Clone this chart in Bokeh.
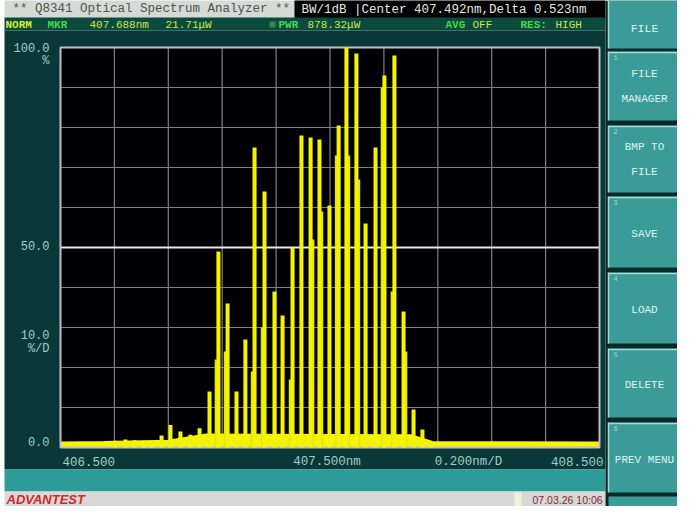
from bokeh.plotting import figure
from bokeh.models import Range1d
from bokeh.embed import file_html
from bokeh.resources import INLINE
from bokeh.core.properties import value

# ---------------- data ----------------
WL_MIN, WL_MAX = 406.5, 408.5          # nm, span of the trace window
PCT_MIN, PCT_MAX = 0.0, 100.0          # linear level, %

peak_wavelength_nm = [406.704, 406.741, 406.775, 406.808, 406.841, 406.875, 406.908,
                      406.945, 406.982, 407.016, 407.053, 407.086, 407.120, 407.153,
                      407.186, 407.220, 407.257, 407.294, 407.324, 407.361, 407.394,
                      407.428, 407.461, 407.498, 407.532, 407.561, 407.598, 407.632,
                      407.669, 407.702, 407.739, 407.773, 407.810, 407.843, 407.873]
peak_level_pct = [1.7, 2.0, 1.8, 1.7, 1.5, 3.0, 5.6,
                  4.0, 3.2, 4.8, 14.0, 49.0, 36.0, 14.0,
                  27.0, 75.0, 64.0, 39.0, 33.0, 50.0, 78.0,
                  77.5, 77.0, 60.5, 80.5, 100.0, 98.5, 56.0,
                  75.0, 93.0, 98.0, 34.0, 9.5, 4.5, 1.5]

shoulder_wavelength_nm = [407.078, 407.112, 407.212, 407.249, 407.353, 407.436, 407.469,
                          407.524, 407.569, 407.606, 407.694, 407.731, 407.781]
shoulder_level_pct = [22.0, 24.0, 19.0, 30.0, 17.0, 52.0, 59.0,
                      73.0, 73.0, 67.0, 90.0, 39.0, 24.0]

floor_wavelength_nm = [406.5, 406.66, 406.90, 407.04, 407.80, 407.88, 408.5]
floor_level_pct = [1.2, 1.3, 1.6, 3.2, 3.0, 1.3, 1.2]

x_grid_nm = [406.7, 406.9, 407.1, 407.3, 407.5, 407.7, 407.9, 408.1, 408.3]
y_grid_pct = [10, 20, 30, 40, 60, 70, 80, 90]
y_mid_pct = [50]

x_tick_nm = [406.5, 407.5, 408.5]
x_tick_labels = ["406.500", "407.500nm", "408.500"]
y_tick_pct = [100, 50, 0]
y_tick_labels = ["100.0", "50.0", "0.0"]

menu_title = "FILE"
menu_items = [["FILE", "MANAGER"], ["BMP TO", "FILE"], ["SAVE"], ["LOAD"], ["DELETE"], ["PREV MENU"]]

# ---------------- layout (page pixels) ----------------
FIG_L, FIG_R, FIG_T, FIG_B = 8, 685, 8, 514
PLOT_L, PLOT_R, PLOT_T, PLOT_B = 68, 607, 55, 455

wpp = (WL_MAX - WL_MIN) / (PLOT_R - PLOT_L)
ppp = (PCT_MAX - PCT_MIN) / (PLOT_B - PLOT_T)

p = figure(width=FIG_R - FIG_L, height=FIG_B - FIG_T,
           x_range=Range1d(FIG_L, FIG_R), y_range=Range1d(FIG_B, FIG_T),
           x_axis_location=None, y_axis_location=None,
           toolbar_location=None, output_backend="svg",
           min_border=0, outline_line_color=None,
           background_fill_color="white", border_fill_color="white")
p.grid.visible = False
p.extra_x_ranges = {"wl": Range1d(WL_MIN - (PLOT_L - FIG_L) * wpp, WL_MAX + (FIG_R - PLOT_R) * wpp)}
p.extra_y_ranges = {"pct": Range1d(PCT_MIN - (FIG_B - PLOT_B) * ppp, PCT_MAX + (PLOT_T - FIG_T) * ppp)}

MONO = value("Liberation Mono")
SANS = value("Liberation Sans")


def box(l, r, t, b, color, **kw):
    p.quad(left=[l], right=[r], top=[t], bottom=[b], fill_color=color, line_color=None, **kw)


def txt(xs, ys, texts, color, size, align="left", font=MONO, style="normal", **kw):
    p.text(x=xs, y=ys, text=texts, text_color=color, text_font=font, text_font_size=size,
           text_align=align, text_baseline="middle", text_font_style=style, **kw)


# ---- screen background panels ----
box(12, 613, 7, 26, "#d6dad6")                 # title bar
box(302, 613, 7, 26, "#000000")                # BW / center box
box(12, 613, 25, 38, "#0c4a3e")                # status row
box(12, 613, 38, 477, "#0a3838")               # main trace area
box(12, 613, 477, 499, "#2d9b98")              # lower band
box(12, 613, 499, 514, "#d8d8d8")              # bottom bar
box(613, 685, 8, 514, "#0a2a2a")               # menu panel background

txt([20], [16], ["** Q8341 Optical Spectrum Analyzer **"], "#4c5450", "12.5px")
txt([309], [17], ["BW/1dB |Center 407.492nm,Delta 0.523nm"], "#e6e6e6", "12.5px")

txt([13], [32], ["NORM"], "#d8ec3a", "11px", style="bold")
txt([55], [32], ["MKR"], "#44d84a", "11px", style="bold")
txt([97], [32], ["407.688nm"], "#c8e848", "11px")
txt([173], [32], ["21.71\u03bcW"], "#c8e848", "11px")
box(277, 283, 29, 35, "#2a8a4a")
txt([286], [32], ["PWR"], "#44d84a", "11px", style="bold")
txt([315], [32], ["878.32\u03bcW"], "#c8e848", "11px")
txt([453], [32], ["AVG"], "#44d84a", "11px", style="bold")
txt([480], [32], ["OFF"], "#c8e848", "11px")
txt([528], [32], ["RES:"], "#44d84a", "11px", style="bold")
txt([563], [32], ["HIGH"], "#c8e848", "11px")

# ---- trace window ----
p.quad(left=[WL_MIN], right=[WL_MAX], top=[PCT_MAX], bottom=[PCT_MIN],
       fill_color="#000004", line_color=None, x_range_name="wl", y_range_name="pct")
p.segment(x0=x_grid_nm, x1=x_grid_nm, y0=[PCT_MIN] * len(x_grid_nm), y1=[PCT_MAX] * len(x_grid_nm),
          line_color="#808080", line_width=1.2, x_range_name="wl", y_range_name="pct")
p.segment(x0=[WL_MIN] * len(y_grid_pct), x1=[WL_MAX] * len(y_grid_pct), y0=y_grid_pct, y1=y_grid_pct,
          line_color="#808080", line_width=1.2, x_range_name="wl", y_range_name="pct")
p.segment(x0=[WL_MIN], x1=[WL_MAX], y0=y_mid_pct, y1=y_mid_pct,
          line_color="#e8e8e8", line_width=2, x_range_name="wl", y_range_name="pct")

YELLOW = "#f4f400"
p.varea(x=floor_wavelength_nm, y1=[PCT_MIN] * len(floor_wavelength_nm), y2=floor_level_pct,
        fill_color=YELLOW, x_range_name="wl", y_range_name="pct")
p.line(x=floor_wavelength_nm, y=floor_level_pct, line_color=YELLOW, line_width=2.5,
       x_range_name="wl", y_range_name="pct")
p.quad(left=[WL_MIN], right=[WL_MAX], top=[PCT_MAX], bottom=[PCT_MIN],
       fill_color=None, line_color="#c6bac6", line_width=2, x_range_name="wl", y_range_name="pct")
p.vbar(x=shoulder_wavelength_nm, top=shoulder_level_pct, bottom=0, width=0.012,
       fill_color="#e6e600", line_color=None, x_range_name="wl", y_range_name="pct")
p.vbar(x=peak_wavelength_nm, top=peak_level_pct, bottom=0, width=0.015,
       fill_color=YELLOW, line_color=None, x_range_name="wl", y_range_name="pct")

# ---- scale labels ----
LBL = "#9ccfca"
txt([57] * 3, y_tick_pct, y_tick_labels, LBL, "12px", align="right", y_range_name="pct",
    y_offset=[0, -2, -6])
txt([57], [68], ["%"], LBL, "12px", align="right")
txt([57], [342], ["10.0"], LBL, "12px", align="right")
txt([57], [356], ["%/D"], LBL, "12px", align="right")
txt(x_tick_nm, [469] * 3, x_tick_labels, LBL, "12.5px", x_range_name="wl",
    align=["left", "center", "right"], x_offset=[2, -3, 4])
txt([476], [469], ["0.200nm/D"], LBL, "12.5px", align="center")

# ---- bottom bar ----
txt([14], [507], ["ADVANTEST"], "#d42828", "13px", font=SANS, style="bold italic")
box(522, 529, 500, 514, "#f2f0dc")
txt([540], [507], ["07.03.26 10:06"], "#7c2c2c", "10.5px", font=SANS)

# ---- soft-key menu ----
BTN = "#3a9b97"
HI = "#a6dcd8"
BTXT = "#dff4f2"
box(616, 685, 8, 56, BTN)
p.segment(x0=[616], x1=[616], y0=[8], y1=[56], line_color=HI, line_width=1.5)
txt([652], [36], [menu_title], BTXT, "11.5px", align="center")
btn_rows = [(59, 128), (133, 200), (204, 275), (280, 351), (356, 425), (430, 500)]
for i, ((t, b), lines) in enumerate(zip(btn_rows, menu_items)):
    box(616, 685, t, b, BTN)
    p.segment(x0=[616, 616], x1=[685, 616], y0=[t + 1, t], y1=[t + 1, b],
              line_color=HI, line_width=1.5)
    txt([621], [t + 6], [str(i + 1)], HI, "7px")
    mid = (t + b) / 2
    if len(lines) == 2:
        ys = [mid - 12, mid + 13]
    else:
        ys = [mid + 2]
    txt([652] * len(lines), ys, lines, BTXT, "11px", align="center")
box(616, 685, 504, 514, BTN)

open("out.html", "w").write(file_html(p, INLINE))
